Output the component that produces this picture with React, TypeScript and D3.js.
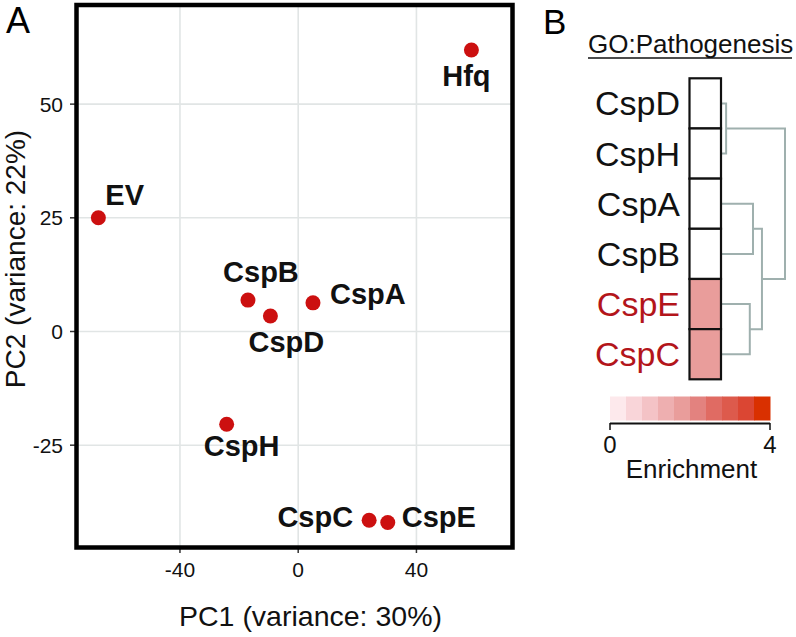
import React from "react";
import * as d3 from "d3";

// ---------- Panel A data (PCA) ----------
const samples = ["Hfq", "EV", "CspB", "CspA", "CspD", "CspH", "CspC", "CspE"];
const pc1 = [58.6, -67.6, -17.0, 5.0, -9.4, -24.2, 24.0, 30.3];
const pc2 = [61.9, 25.0, 6.9, 6.3, 3.4, -20.4, -41.5, -42.0];
const xTicks = [-40, 0, 40];
const yTicks = [-25, 0, 25, 50];

// ---------- Panel B data (heatmap + dendrogram) ----------
const heatRows = ["CspD", "CspH", "CspA", "CspB", "CspE", "CspC"];
const enrichment = [0, 0, 0, 0, 1.9, 1.9];
// merges: [left, right, height]
const merges: [string, string, number][] = [
  ["CspD", "CspH", 0.08],
  ["CspA", "CspB", 0.5],
  ["CspE", "CspC", 0.45],
  ["CspA+CspB", "CspE+CspC", 0.64],
  ["CspD+CspH", "CspA+CspB+CspE+CspC", 1.0],
];
const legendColors = [
  "#fde9ec", "#f9d5d9", "#f4c3c6", "#eeafb0", "#e99d9b",
  "#e3827f", "#e06b63", "#dd5a4c", "#db4633", "#d93000",
];
const legendTicks = [0, 4];

// ---------- layout (label placement) ----------
const labelPlace: Record<string, { anchor: string; dx: number; dy: number }> = {
  Hfq: { anchor: "middle", dx: -5, dy: 36 },
  EV: { anchor: "start", dx: 7, dy: -13 },
  CspB: { anchor: "middle", dx: 13, dy: -18 },
  CspA: { anchor: "start", dx: 17, dy: 1 },
  CspD: { anchor: "middle", dx: 16, dy: 36 },
  CspH: { anchor: "middle", dx: 15, dy: 32 },
  CspC: { anchor: "end", dx: -16, dy: 7 },
  CspE: { anchor: "start", dx: 14, dy: 5 },
};

const FONT = "'Liberation Sans', Arial, Helvetica, sans-serif";

export default function App() {
  const x = d3.scaleLinear().domain([-75, 72.5]).range([76.5, 512.5]);
  const y = d3.scaleLinear().domain([-47.5, 71.8]).range([547.5, 5]);

  // heatmap scales
  const rowY = d3.scaleBand().domain(heatRows).range([78.3, 379.3]);
  const cellX0 = 689.5;
  const cellX1 = 721;
  const color = d3.scaleQuantize<string>().domain([0, 4]).range(legendColors);
  const hx = d3.scaleLinear().domain([0, 1]).range([cellX1, 785]);

  // dendrogram
  const nodeY: Record<string, number> = {};
  const nodeH: Record<string, number> = {};
  heatRows.forEach((r) => {
    nodeY[r] = (rowY(r) as number) + rowY.bandwidth() / 2;
    nodeH[r] = 0;
  });
  const dendroPaths: string[] = [];
  merges.forEach(([a, b, h]) => {
    const ya = nodeY[a], yb = nodeY[b];
    const p = d3.path();
    p.moveTo(hx(nodeH[a]), ya);
    p.lineTo(hx(h), ya);
    p.lineTo(hx(h), yb);
    p.lineTo(hx(nodeH[b]), yb);
    dendroPaths.push(p.toString());
    const key = a + "+" + b;
    nodeY[key] = (ya + yb) / 2;
    nodeH[key] = h;
  });

  const legX = d3.scaleLinear().domain([0, 4]).range([610, 770]);
  const legStep = (legX(4) - legX(0)) / legendColors.length;

  return (
    <svg width={796} height={637} style={{ position: "absolute", left: 0, top: 0, background: "#fff" }} fontFamily={FONT}>
      <rect width={796} height={637} fill="#fff" />
      {/* Panel A */}
      <text x={6} y={33} fontSize={36}>A</text>
      {xTicks.map((t) => (
        <line key={"gx" + t} x1={x(t)} x2={x(t)} y1={5} y2={547.5} stroke="#e1e5e5" strokeWidth={1.6} />
      ))}
      {yTicks.map((t) => (
        <line key={"gy" + t} x1={76.5} x2={512.5} y1={y(t)} y2={y(t)} stroke="#e1e5e5" strokeWidth={1.6} />
      ))}
      {xTicks.map((t) => (
        <g key={"tx" + t}>
          <line x1={x(t)} x2={x(t)} y1={547.5} y2={553} stroke="#333" strokeWidth={1.5} />
          <text x={x(t)} y={577} fontSize={21} textAnchor="middle" fill="#111">{t}</text>
        </g>
      ))}
      {yTicks.map((t) => (
        <g key={"ty" + t}>
          <line x1={70} x2={76.5} y1={y(t)} y2={y(t)} stroke="#333" strokeWidth={1.5} />
          <text x={63} y={y(t) + 7.5} fontSize={21} textAnchor="end" fill="#111">{t}</text>
        </g>
      ))}
      <rect x={76.5} y={5} width={436} height={542.5} fill="none" stroke="#000" strokeWidth={4.5} />
      {samples.map((s, i) => (
        <circle key={"p" + s} cx={x(pc1[i])} cy={y(pc2[i])} r={7.5} fill="#cc1010" />
      ))}
      {samples.map((s, i) => {
        const lp = labelPlace[s];
        return (
          <text key={"l" + s} x={x(pc1[i]) + lp.dx} y={y(pc2[i]) + lp.dy} fontSize={29} fontWeight="bold" textAnchor={lp.anchor} fill="#111">
            {s}
          </text>
        );
      })}
      <text x={310.5} y={626} fontSize={28.5} textAnchor="middle" fill="#111">PC1 (variance: 30%)</text>
      <text transform="translate(25,259) rotate(-90)" fontSize={28} textAnchor="middle" fill="#111">PC2 (variance: 22%)</text>

      {/* Panel B */}
      <text x={543} y={34} fontSize={35}>B</text>
      <text x={588} y={53} fontSize={26} fill="#111">GO:Pathogenesis</text>
      <line x1={588} x2={792} y1={58} y2={58} stroke="#111" strokeWidth={1.5} />
      {dendroPaths.map((d, i) => (
        <path key={"d" + i} d={d} fill="none" stroke="#9fb0ae" strokeWidth={2} />
      ))}
      {heatRows.map((r, i) => (
        <rect key={"c" + r} x={cellX0} y={rowY(r) as number} width={cellX1 - cellX0} height={rowY.bandwidth()}
          fill={enrichment[i] > 0 ? color(enrichment[i]) : "#ffffff"} stroke="#111" strokeWidth={2.2} />
      ))}
      {heatRows.map((r, i) => (
        <text key={"t" + r} x={680} y={(rowY(r) as number) + rowY.bandwidth() / 2 + 12} fontSize={34} textAnchor="end"
          fill={enrichment[i] > 0 ? "#b3151b" : "#111"}>{r}</text>
      ))}
      {legendColors.map((c, i) => (
        <rect key={"lg" + i} x={legX(0) + i * legStep} y={396.5} width={legStep + 0.5} height={24} fill={c} />
      ))}
      <line x1={legX(0)} x2={legX(4)} y1={423.5} y2={423.5} stroke="#111" strokeWidth={2.2} />
      {legendTicks.map((t) => (
        <g key={"lt" + t}>
          <line x1={legX(t)} x2={legX(t)} y1={423} y2={430} stroke="#111" strokeWidth={1.5} />
          <text x={legX(t)} y={453} fontSize={24} textAnchor="middle" fill="#111">{t}</text>
        </g>
      ))}
      <text x={691.5} y={478} fontSize={26} textAnchor="middle" fill="#111">Enrichment</text>
    </svg>
  );
}
